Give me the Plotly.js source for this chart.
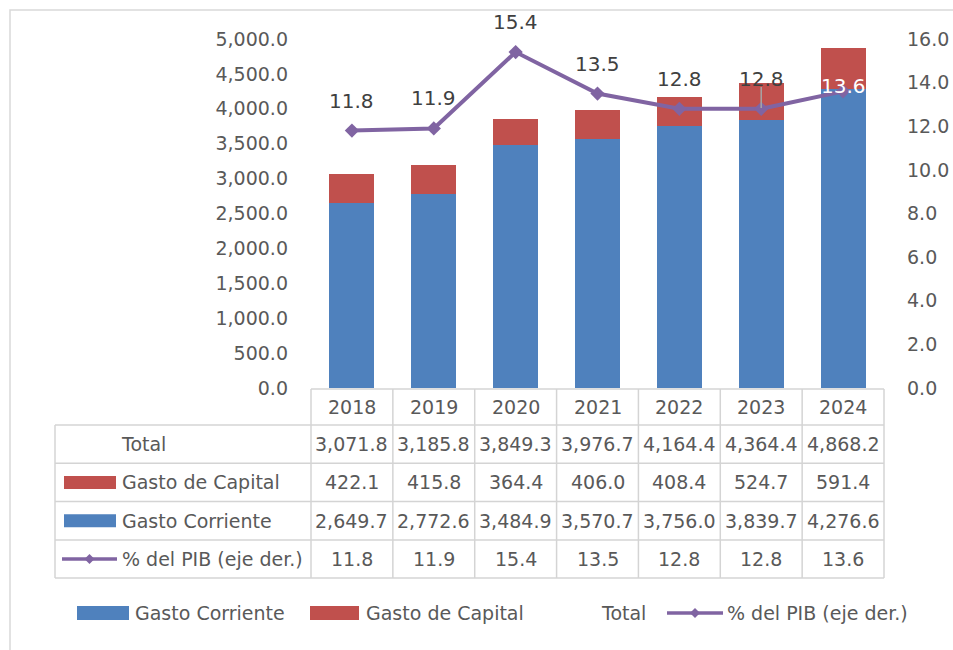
<!DOCTYPE html>
<html>
<head>
<meta charset="utf-8">
<script src="https://cdn.plot.ly/plotly-3.0.1.min.js"></script>
<style>html,body{margin:0;padding:0;background:#fff;}#chart{width:953px;height:650px;}</style>
</head>
<body>
<div id="chart"></div>
<script>
// ---- data ----
var years = ["2018", "2019", "2020", "2021", "2022", "2023", "2024"];
var gastoCorriente = [2649.7, 2772.6, 3484.9, 3570.7, 3756.0, 3839.7, 4276.6];
var gastoCapital = [422.1, 415.8, 364.4, 406.0, 408.4, 524.7, 591.4];
var total = [3071.8, 3185.8, 3849.3, 3976.7, 4164.4, 4364.4, 4868.2];
var pctPIB = [11.8, 11.9, 15.4, 13.5, 12.8, 12.8, 13.6];
var rowLabels = ["Total", "Gasto de Capital", "Gasto Corriente", "% del PIB (eje der.)"];

// ---- styling ----
var W = 953, H = 650;
var M = {l: 311, r: 69, t: 39, b: 262};
var BLUE = "#4F81BD", RED = "#C0504D", PURPLE = "#8064A2";
var TXT = "#595959", GRID = "#D9D9D9";
var FONT = "'DejaVu Sans', sans-serif";
var FS = 19;

function px(x) { return (x - M.l) / (W - M.l - M.r); }
function py(y) { return (H - M.b - y) / (H - M.t - M.b); }
function fmt(v) { return v.toLocaleString("en-US", {minimumFractionDigits: 1, maximumFractionDigits: 1}); }

var traces = [
  {type: "bar", name: "Gasto Corriente", x: years, y: gastoCorriente, marker: {color: BLUE},
   width: 0.55, showlegend: false, hoverinfo: "skip"},
  {type: "bar", name: "Gasto de Capital", x: years, y: gastoCapital, marker: {color: RED},
   width: 0.55, showlegend: false, hoverinfo: "skip"},
  {type: "scatter", mode: "lines+markers", name: "% del PIB (eje der.)", x: years, y: pctPIB, yaxis: "y2",
   line: {color: PURPLE, width: 4}, marker: {symbol: "diamond", size: 11, color: PURPLE},
   showlegend: false, hoverinfo: "skip"}
];

var shapes = [], annotations = [];

// outer chart frame
shapes.push({type: "rect", xref: "paper", yref: "paper", x0: px(10), x1: px(970), y0: py(10), y1: py(670),
  line: {color: GRID, width: 1.5}, layer: "below"});

// data table geometry
var nCol = years.length, colEdges = [];
var rowTopHeader = 389, rowEdges = [425, 463.3, 501.6, 539.9, 578];
var tableLeft = 55, plotL = 311, plotR = 884;
for (var i = 0; i <= nCol; i++) colEdges.push(plotL + (plotR - plotL) * i / nCol);

var lineStyle = {color: "#D4D4D4", width: 1.5};
shapes.push({type: "line", xref: "paper", yref: "paper", x0: px(plotL), x1: px(plotR), y0: py(rowTopHeader), y1: py(rowTopHeader), line: lineStyle});
rowEdges.forEach(function (y) {
  shapes.push({type: "line", xref: "paper", yref: "paper", x0: px(tableLeft), x1: px(plotR), y0: py(y), y1: py(y), line: lineStyle});
});
colEdges.forEach(function (x) {
  shapes.push({type: "line", xref: "paper", yref: "paper", x0: px(x), x1: px(x), y0: py(rowTopHeader), y1: py(rowEdges[rowEdges.length - 1]), line: lineStyle});
});
shapes.push({type: "line", xref: "paper", yref: "paper", x0: px(tableLeft), x1: px(tableLeft), y0: py(rowEdges[0]), y1: py(rowEdges[rowEdges.length - 1]), line: lineStyle});

var cellFont = {family: FONT, size: FS, color: TXT};
function rowCenter(k) { return (rowEdges[k] + rowEdges[k + 1]) / 2; }

// header years (category index used for x position on the category axis)
years.forEach(function (yr, i) {
  annotations.push({xref: "x", yref: "paper", x: i, y: py((rowTopHeader + rowEdges[0]) / 2), text: yr,
    showarrow: false, font: cellFont, xanchor: "center", yanchor: "middle"});
});
// table values
var rowData = [total, gastoCapital, gastoCorriente, pctPIB];
rowData.forEach(function (arr, k) {
  arr.forEach(function (v, i) {
    annotations.push({xref: "x", yref: "paper", x: i, y: py(rowCenter(k)), text: fmt(v),
      showarrow: false, font: cellFont, xanchor: "center", yanchor: "middle"});
  });
});
// row labels
rowLabels.forEach(function (lab, k) {
  annotations.push({xref: "paper", yref: "paper", x: px(k === 0 ? 119 : 120), y: py(rowCenter(k)), text: lab,
    showarrow: false, font: cellFont, xanchor: "left", yanchor: "middle"});
});
function swatch(x0, x1, yc, h, color) {
  shapes.push({type: "rect", xref: "paper", yref: "paper", x0: px(x0), x1: px(x1), y0: py(yc + h / 2), y1: py(yc - h / 2),
    fillcolor: color, line: {width: 0}});
}
function lineKey(x0, x1, yc) {
  shapes.push({type: "line", xref: "paper", yref: "paper", x0: px(x0), x1: px(x1), y0: py(yc), y1: py(yc),
    line: {color: PURPLE, width: 3.5}});
  var xm = (x0 + x1) / 2, d = 5;
  shapes.push({type: "path", xref: "paper", yref: "paper",
    path: "M " + px(xm - d) + " " + py(yc) + " L " + px(xm) + " " + py(yc - d) + " L " + px(xm + d) + " " + py(yc) + " L " + px(xm) + " " + py(yc + d) + " Z",
    fillcolor: PURPLE, line: {width: 0}});
}
swatch(64, 116, rowCenter(1), 13, RED);
swatch(64, 116, rowCenter(2), 13, BLUE);
lineKey(62, 117, rowCenter(3));

// small leader line under the 2023 label
shapes.push({type: "line", xref: "x", yref: "paper", x0: 5, x1: 5, y0: py(87), y1: py(108),
  line: {color: "#A6A6A6", width: 1.5}});

// line data labels
pctPIB.forEach(function (v, i) {
  var last = i === pctPIB.length - 1;
  annotations.push({xref: "x", yref: "y2", x: i, y: v, text: v.toFixed(1), showarrow: false,
    font: {family: FONT, size: 20, color: last ? "#FFFFFF" : "#404040"},
    xanchor: "center", yanchor: "middle", yshift: last ? 5 : 30});
});

// bottom legend
var legY = 613;
swatch(77, 129, legY, 14, BLUE);
annotations.push({xref: "paper", yref: "paper", x: px(133), y: py(legY), text: "Gasto Corriente", showarrow: false, font: cellFont, xanchor: "left", yanchor: "middle"});
swatch(310, 359, legY, 14, RED);
annotations.push({xref: "paper", yref: "paper", x: px(364), y: py(legY), text: "Gasto de Capital", showarrow: false, font: cellFont, xanchor: "left", yanchor: "middle"});
annotations.push({xref: "paper", yref: "paper", x: px(599), y: py(legY), text: "Total", showarrow: false, font: cellFont, xanchor: "left", yanchor: "middle"});
lineKey(667, 723, legY);
annotations.push({xref: "paper", yref: "paper", x: px(725), y: py(legY), text: "% del PIB (eje der.)", showarrow: false, font: cellFont, xanchor: "left", yanchor: "middle"});

var layout = {
  width: W, height: H,
  margin: {l: M.l, r: M.r, t: M.t, b: M.b, autoexpand: false},
  paper_bgcolor: "#FFFFFF", plot_bgcolor: "#FFFFFF",
  barmode: "stack",
  showlegend: false,
  font: {family: FONT, size: FS, color: TXT},
  xaxis: {type: "category", categoryorder: "array", categoryarray: years, range: [-0.5, 6.5],
    showticklabels: false, showgrid: false, zeroline: false, showline: false, ticks: ""},
  yaxis: {range: [0, 5000], dtick: 500, tick0: 0, tickformat: ",.1f", showgrid: false, zeroline: false,
    showline: false, ticks: "", ticklabelstandoff: 22, tickfont: {family: FONT, size: FS, color: TXT}},
  yaxis2: {overlaying: "y", side: "right", range: [0, 16], dtick: 2, tick0: 0, tickformat: ".1f",
    showgrid: false, zeroline: false, showline: false, ticks: "", ticklabelstandoff: 22,
    tickfont: {family: FONT, size: FS, color: TXT}},
  shapes: shapes,
  annotations: annotations
};

Plotly.newPlot("chart", traces, layout, {staticPlot: true, displayModeBar: false});
</script>
</body>
</html>
